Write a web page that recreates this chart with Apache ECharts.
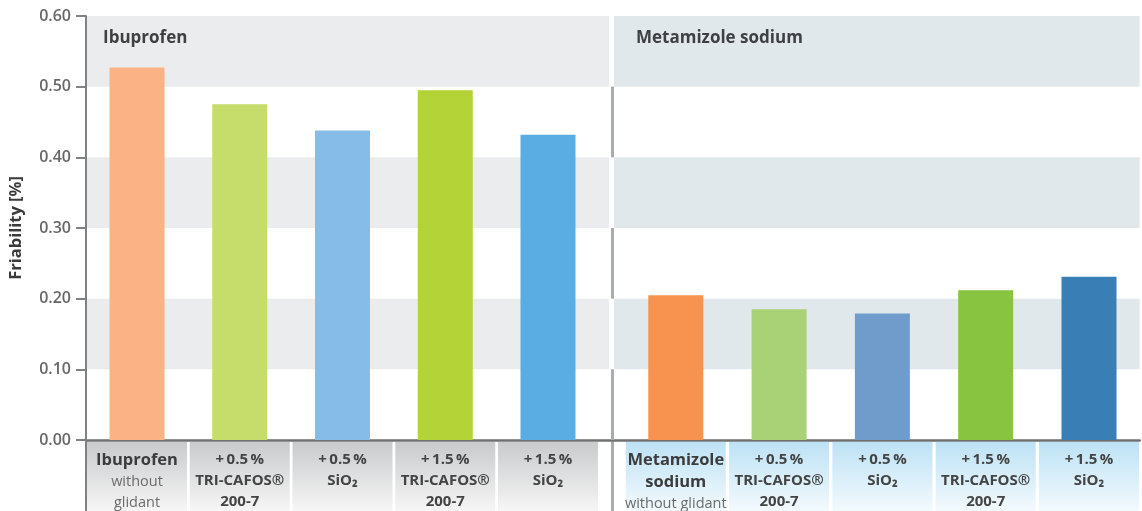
<!DOCTYPE html>
<html>
<head>
<meta charset="utf-8">
<title>Friability</title>
<script src="https://cdn.jsdelivr.net/npm/echarts@6.0.0/dist/echarts.min.js"></script>
<style>
  html, body { margin: 0; padding: 0; background: #ffffff; }
  #chart { width: 1142px; height: 511px; }
</style>
</head>
<body>
<div id="chart"></div>
<script>
// ---- data ----
const groupNames = ['Ibuprofen', 'Metamizole sodium'];

const ibuprofenCategories = [
  'Ibuprofen\nwithout\nglidant',
  '+\u20090.5\u2009%\nTRI-CAFOS®\n200-7',
  '+\u20090.5\u2009%\nSiO\u2082',
  '+\u20091.5\u2009%\nTRI-CAFOS®\n200-7',
  '+\u20091.5\u2009%\nSiO\u2082'
];
const metamizoleCategories = [
  'Metamizole\nsodium\nwithout glidant',
  '+\u20090.5\u2009%\nTRI-CAFOS®\n200-7',
  '+\u20090.5\u2009%\nSiO\u2082',
  '+\u20091.5\u2009%\nTRI-CAFOS®\n200-7',
  '+\u20091.5\u2009%\nSiO\u2082'
];

// friability in %
const ibuprofenValues = [0.527, 0.475, 0.438, 0.495, 0.432];
const metamizoleValues = [0.205, 0.185, 0.179, 0.212, 0.231];

const ibuprofenColors = ['#fbb386', '#c6dd6b', '#85bde8', '#b3d336', '#5aade2'];
const metamizoleColors = ['#f7924f', '#a9d276', '#6f9ccb', '#88c43f', '#3a7eb6'];

const yMin = 0, yMax = 0.6, yStep = 0.1;
// shaded horizontal bands [from, to]
const bandRanges = [[0.1, 0.2], [0.3, 0.4], [0.5, 0.6]];
// white stretches of the divider between the two panels
const dividerRanges = [[0.0, 0.1], [0.2, 0.3], [0.4, 0.5]];

// ---- layout / style ----
const FONT = 'Open Sans';
const LEFT_X = { min: -0.4964, max: 4.623, bandEnd: 4.594 };
const RIGHT_X = { min: -0.598, max: 4.491, bandEnd: 4.491 };
const PLOT_TOP = 16, PLOT_H = 426;

function richLabel(text, index) {
  return text.split('\n').map(function (line) {
    if (/without|glidant/.test(line)) return '{n|' + line + '}';
    return (index === 0 ? '{h|' : '{b|') + line + '}';
  }).join('\n');
}

function boxGradient(top, bottom) {
  return new echarts.graphic.LinearGradient(0, 0, 0, 1, [
    { offset: 0, color: top },
    { offset: 1, color: bottom }
  ]);
}

const labelRich = {
  h: { fontFamily: FONT, fontSize: 16.5, fontWeight: 'bold', color: '#3c3c3c', lineHeight: 22 },
  b: { fontFamily: FONT, fontSize: 15, fontWeight: 'bold', color: '#444444', lineHeight: 21 },
  n: { fontFamily: FONT, fontSize: 14.5, color: '#6b6b6b', lineHeight: 21 }
};

function xAxisFor(gridIndex, range, categories, bgTop, bgBottom) {
  return {
    type: 'value',
    gridIndex: gridIndex,
    min: range.min,
    max: range.max,
    splitLine: { show: false },
    axisTick: { show: false },
    axisLine: { show: true, onZero: false, lineStyle: { color: '#6f7072', width: 2.5 } },
    axisLabel: {
      customValues: categories.map(function (_, i) { return i; }),
      formatter: function (v) { return richLabel(categories[v], v); },
      margin: 2,
      width: 100,
      height: 62,
      padding: [7, 0, 0, 0],
      align: 'center',
      verticalAlign: 'top',
      backgroundColor: boxGradient(bgTop, bgBottom),
      rich: labelRich
    }
  };
}

function bandSeries(xi, range, name, color, labelOffset) {
  return {
    type: 'line',
    xAxisIndex: xi,
    yAxisIndex: xi,
    data: [],
    z: 1,
    silent: true,
    markArea: {
      silent: true,
      data: bandRanges.map(function (r) {
        const top = r[1] === yMax;
        return [
          {
            name: top ? name : '',
            coord: [range.min, r[0]],
            itemStyle: { color: color },
            label: {
              show: top,
              position: 'insideTopLeft',
              distance: 0,
              offset: labelOffset,
              fontFamily: FONT,
              fontSize: 17,
              fontWeight: 'bold',
              color: '#3f4042'
            }
          },
          { coord: [range.bandEnd, r[1]] }
        ];
      })
    }
  };
}

function barSeries(xi, values, colors, extra) {
  return Object.assign({
    type: 'bar',
    xAxisIndex: xi,
    yAxisIndex: xi,
    barWidth: 55,
    z: 3,
    clip: false,
    data: values.map(function (v, i) {
      return { value: [i, v], itemStyle: { color: colors[i] } };
    })
  }, extra || {});
}

const option = {
  animation: false,
  backgroundColor: '#ffffff',
  grid: [
    { left: 86, top: PLOT_TOP, width: 526, height: PLOT_H },
    { left: 614, top: PLOT_TOP, width: 528, height: PLOT_H },
    // frame lines continuing below the baseline through the label row
    { left: 86, top: PLOT_TOP + PLOT_H, width: 526, height: 80 }
  ],
  xAxis: [
    xAxisFor(0, LEFT_X, ibuprofenCategories, '#c9cacc', '#f6f6f6'),
    xAxisFor(1, RIGHT_X, metamizoleCategories, '#bde2f5', '#f3fafd'),
    { type: 'value', gridIndex: 2, show: false }
  ],
  yAxis: [
    {
      type: 'value',
      gridIndex: 0,
      min: yMin, max: yMax, interval: yStep,
      z: 5,
      splitLine: { show: false },
      axisLine: { show: true, onZero: false, lineStyle: { color: '#7f8183', width: 2 } },
      axisTick: { show: true, length: 10, lineStyle: { color: '#7f8183', width: 2 } },
      axisLabel: {
        margin: 15,
        fontFamily: FONT,
        fontSize: 16,
        fontWeight: 600,
        color: '#676767',
        formatter: function (v) { return v.toFixed(2); }
      },
      name: 'Friability [%]',
      nameLocation: 'middle',
      nameGap: 61,
      nameTextStyle: { fontFamily: FONT, fontSize: 16.5, fontWeight: 'bold', color: '#3a3a3a' }
    },
    {
      type: 'value',
      gridIndex: 1,
      min: yMin, max: yMax, interval: yStep,
      show: false
    },
    {
      type: 'value', gridIndex: 2, position: 'left', inverse: true,
      axisLine: { show: true, onZero: false, lineStyle: { color: '#7f8183', width: 2 } },
      axisTick: { show: false }, axisLabel: { show: false }, splitLine: { show: false }
    },
    {
      type: 'value', gridIndex: 2, position: 'right', inverse: true,
      axisLine: { show: true, onZero: false, lineStyle: { color: '#a9abad', width: 3 } },
      axisTick: { show: false }, axisLabel: { show: false }, splitLine: { show: false }
    }
  ],
  series: [
    bandSeries(0, LEFT_X, groupNames[0], '#ebeced', [17, 14]),
    bandSeries(1, RIGHT_X, groupNames[1], '#e1e8ec', [22, 14]),
    barSeries(0, ibuprofenValues, ibuprofenColors, {
      markLine: {
        silent: true,
        symbol: ['none', 'none'],
        label: { show: false },
        lineStyle: { type: 'solid', color: '#a9abad', width: 3 },
        data: dividerRanges.map(function (r) {
          return [{ coord: [LEFT_X.max, r[0]] }, { coord: [LEFT_X.max, r[1]] }];
        })
      }
    }),
    barSeries(1, metamizoleValues, metamizoleColors)
  ]
};

const chart = echarts.init(document.getElementById('chart'), null, { renderer: 'canvas' });
chart.setOption(option);
</script>
</body>
</html>
